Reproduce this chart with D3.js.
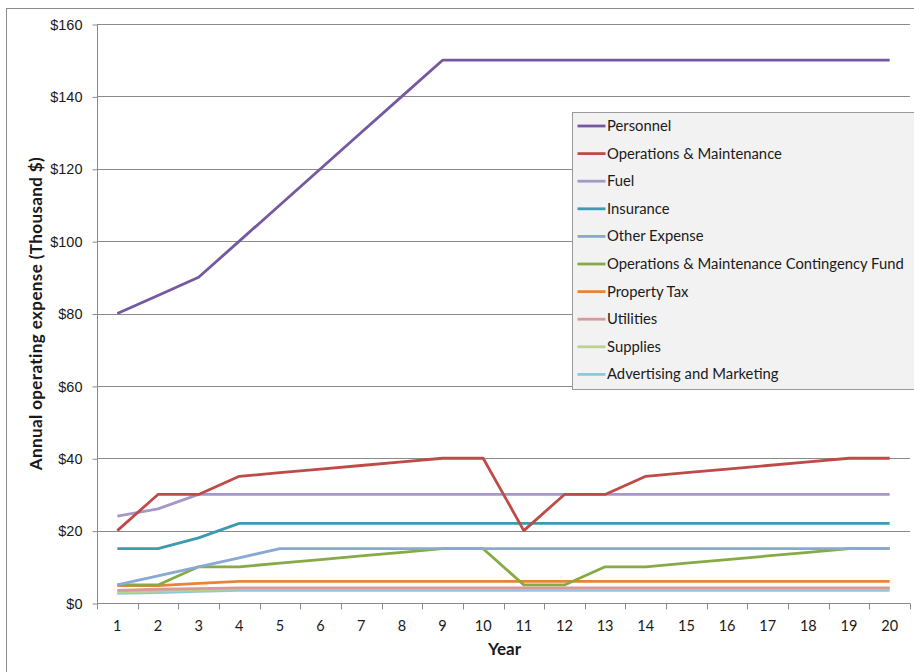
<!DOCTYPE html>
<html>
<head>
<meta charset="utf-8">
<script src="https://cdn.jsdelivr.net/npm/d3@7"></script>
<style>
  html, body { margin: 0; padding: 0; background: #ffffff; }
  svg { display: block; font-family: Lato, "Open Sans", "DejaVu Sans", sans-serif; }
</style>
</head>
<body>
<svg id="chart" width="914" height="672"></svg>
<script>
// Twenty-year operating expense projection (thousand dollars)
const years = d3.range(1, 21);

const personnel   = [80, 85, 90, 100, 110, 120, 130, 140, 150, 150, 150, 150, 150, 150, 150, 150, 150, 150, 150, 150];
const operations  = [20, 30, 30, 35, 36, 37, 38, 39, 40, 40, 20, 30, 30, 35, 36, 37, 38, 39, 40, 40];
const fuel        = [24, 26, 30, 30, 30, 30, 30, 30, 30, 30, 30, 30, 30, 30, 30, 30, 30, 30, 30, 30];
const insurance   = [15, 15, 18, 22, 22, 22, 22, 22, 22, 22, 22, 22, 22, 22, 22, 22, 22, 22, 22, 22];
const otherExp    = [5, 7.5, 10, 12.5, 15, 15, 15, 15, 15, 15, 15, 15, 15, 15, 15, 15, 15, 15, 15, 15];
const contingency = [5, 5, 10, 10, 11, 12, 13, 14, 15, 15, 5, 5, 10, 10, 11, 12, 13, 14, 15, 15];
const propertyTax = [4.8, 4.8, 5.4, 6, 6, 6, 6, 6, 6, 6, 6, 6, 6, 6, 6, 6, 6, 6, 6, 6];
const utilities   = [3.5, 3.8, 4, 4.2, 4.2, 4.2, 4.2, 4.2, 4.2, 4.2, 4.2, 4.2, 4.2, 4.2, 4.2, 4.2, 4.2, 4.2, 4.2, 4.2];
const supplies    = [3, 3.3, 3.6, 4, 4, 4, 4, 4, 4, 4, 4, 4, 4, 4, 4, 4, 4, 4, 4, 4];
const advertising = [2.7, 2.9, 3.2, 3.5, 3.5, 3.5, 3.5, 3.5, 3.5, 3.5, 3.5, 3.5, 3.5, 3.5, 3.5, 3.5, 3.5, 3.5, 3.5, 3.5];

const seriesNames = [
  "Personnel", "Operations & Maintenance", "Fuel", "Insurance", "Other Expense",
  "Operations & Maintenance Contingency Fund", "Property Tax", "Utilities", "Supplies",
  "Advertising and Marketing"
];
const seriesValues = [personnel, operations, fuel, insurance, otherExp, contingency,
  propertyTax, utilities, supplies, advertising];
const seriesColors = ["#7559a0", "#be4b48", "#a797c6", "#3d9ab3", "#8aa8d6",
  "#86aa45", "#e8843a", "#d9989a", "#b9d38f", "#8ec8db"];

const yTicks = [0, 20, 40, 60, 80, 100, 120, 140, 160];

const svg = d3.select("#chart");

// chart frame
svg.append("rect")
  .attr("x", 6.5).attr("y", 8.5)
  .attr("width", 930).attr("height", 700)
  .attr("fill", "#ffffff")
  .attr("stroke", "#8c8c8c").attr("stroke-width", 1);

const plot = { left: 97, right: 910, top: 24, bottom: 603 };

const x = d3.scaleBand().domain(years).range([plot.left, plot.right]).padding(0);
const y = d3.scaleLinear().domain([0, 160]).range([plot.bottom, plot.top]);

// horizontal gridlines
svg.append("g")
  .selectAll("line")
  .data(yTicks.filter(d => d > 0))
  .join("line")
  .attr("x1", plot.left).attr("x2", plot.right)
  .attr("y1", d => Math.round(y(d)) + 0.5).attr("y2", d => Math.round(y(d)) + 0.5)
  .attr("stroke", "#8a8a8a").attr("stroke-width", 1);

// y axis
const yAxis = svg.append("g")
  .attr("transform", `translate(${plot.left + 0.5},0.5)`)
  .call(d3.axisLeft(y).tickValues(yTicks).tickSize(5).tickPadding(10)
    .tickFormat(d => "$" + d));
yAxis.select(".domain").attr("stroke", "#8a8a8a").attr("d", `M0,${plot.top}V${plot.bottom}`);
yAxis.selectAll(".tick line").attr("stroke", "#8a8a8a");
yAxis.selectAll(".tick text").attr("font-size", 14.5).attr("fill", "#1a1a1a");

// x axis with ticks on category boundaries
const xAxis = svg.append("g")
  .attr("transform", `translate(0,${plot.bottom + 0.5})`);
xAxis.append("line")
  .attr("x1", plot.left).attr("x2", plot.right)
  .attr("stroke", "#8a8a8a");
xAxis.selectAll("line.tk")
  .data(years.concat([21]))
  .join("line").attr("class", "tk")
  .attr("x1", d => Math.round(d <= 20 ? x(d) : x(20) + x.bandwidth()) + 0.5)
  .attr("x2", d => Math.round(d <= 20 ? x(d) : x(20) + x.bandwidth()) + 0.5)
  .attr("y1", 0).attr("y2", 6)
  .attr("stroke", "#8a8a8a");
xAxis.selectAll("text")
  .data(years)
  .join("text")
  .attr("x", d => x(d) + x.bandwidth() / 2)
  .attr("y", 27)
  .attr("text-anchor", "middle")
  .attr("font-size", 14.5).attr("fill", "#1a1a1a")
  .text(d => d);

// axis titles
svg.append("text")
  .attr("x", x(10) + x.bandwidth() + 1)
  .attr("y", 655)
  .attr("text-anchor", "middle")
  .attr("font-size", 17).attr("font-weight", "bold").attr("fill", "#1a1a1a")
  .text("Year");

svg.append("text")
  .attr("transform", `translate(42,${(plot.top + plot.bottom) / 2}) rotate(-90)`)
  .attr("text-anchor", "middle")
  .attr("font-size", 17).attr("font-weight", "bold").attr("fill", "#1a1a1a")
  .attr("letter-spacing", 0.4)
  .text("Annual operating expense (Thousand $)");

// series lines, drawn from the last series to the first so Personnel sits on top
const line = d3.line()
  .x((d, i) => x(years[i]) + x.bandwidth() / 2)
  .y(d => y(d));

const order = d3.range(seriesNames.length).reverse();
svg.append("g")
  .selectAll("path")
  .data(order)
  .join("path")
  .attr("d", i => line(seriesValues[i]))
  .attr("fill", "none")
  .attr("stroke", i => seriesColors[i])
  .attr("stroke-width", 2.8)
  .attr("stroke-linejoin", "round");

// legend
const legend = svg.append("g").attr("transform", "translate(572.5,112.5)");
legend.append("rect")
  .attr("width", 343).attr("height", 277)
  .attr("fill", "#f2f2f2").attr("stroke", "#9a9a9a");
const rows = legend.selectAll("g.row")
  .data(seriesNames)
  .join("g").attr("class", "row")
  .attr("transform", (d, i) => `translate(0,${13.5 + i * 27.6})`);
rows.append("line")
  .attr("x1", 5).attr("x2", 33)
  .attr("stroke", (d, i) => seriesColors[i])
  .attr("stroke-width", 2.8);
rows.append("text")
  .attr("x", 34.5).attr("y", 5)
  .attr("font-size", 14.8).attr("fill", "#1a1a1a")
  .text(d => d);
</script>
</body>
</html>
